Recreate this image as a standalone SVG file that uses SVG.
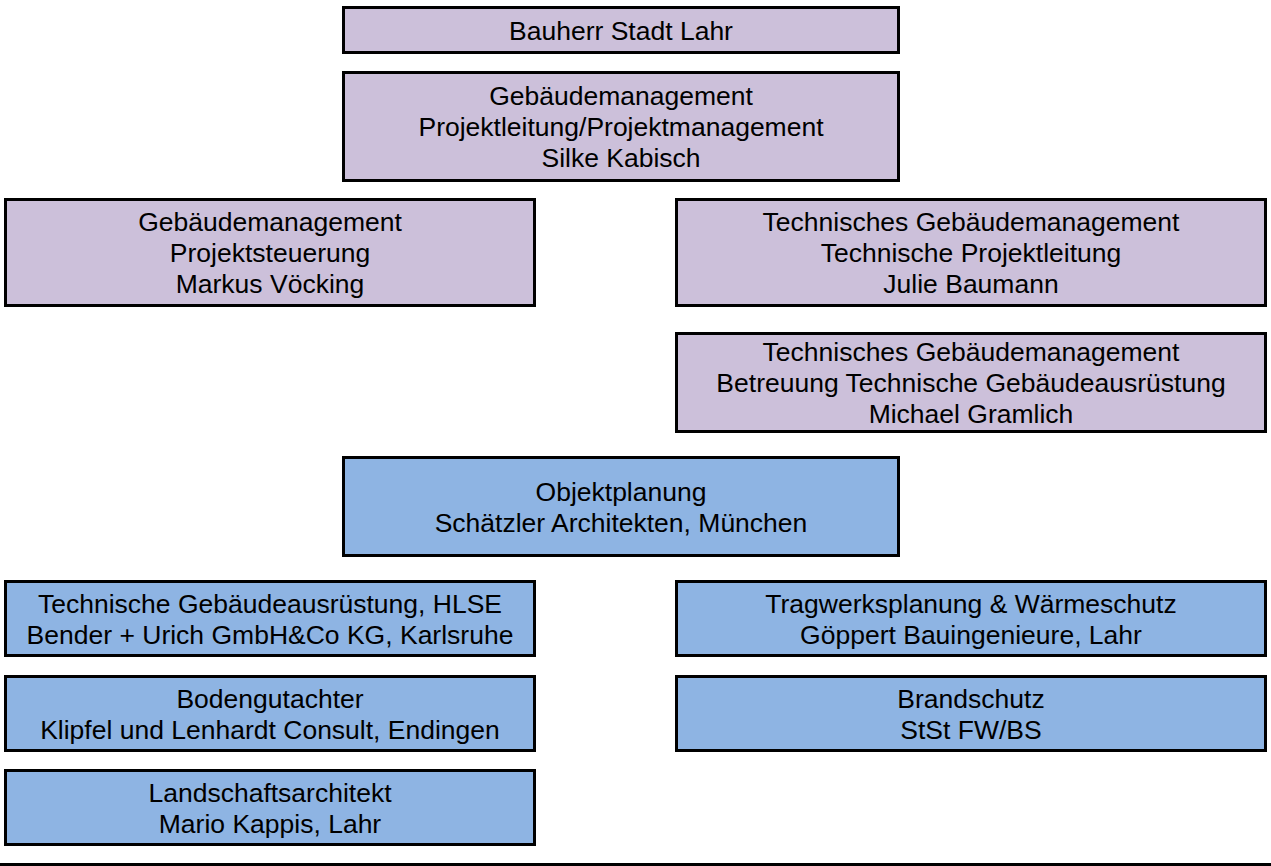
<svg xmlns="http://www.w3.org/2000/svg" width="1271" height="866" viewBox="0 0 1271 866">
<style>
.p{fill:#CCC0DA;stroke:#000;stroke-width:3}
.b{fill:#8EB4E3;stroke:#000;stroke-width:3}
text{font-family:"Liberation Sans",Arial,sans-serif;font-size:26.5px;fill:#000;text-anchor:middle}
</style>
<rect width="1271" height="866" fill="#fff"/>
<g id="bauherr"><rect class="p" x="343.5" y="7.5" width="555" height="45"/><text x="621" y="39.5">Bauherr Stadt Lahr</text></g>
<g id="projektleitung"><rect class="p" x="343.5" y="72.5" width="555" height="108"/><text x="621" y="105">Gebäudemanagement<tspan x="621" y="136">Projektleitung/Projektmanagement</tspan><tspan x="621" y="167">Silke Kabisch</tspan></text></g>
<g id="projektsteuerung"><rect class="p" x="5.5" y="199.5" width="529" height="106"/><text x="270" y="231">Gebäudemanagement<tspan x="270" y="262">Projektsteuerung</tspan><tspan x="270" y="293">Markus Vöcking</tspan></text></g>
<g id="tech-projektleitung"><rect class="p" x="676.5" y="199.5" width="589" height="106"/><text x="971" y="231">Technisches Gebäudemanagement<tspan x="971" y="262">Technische Projektleitung</tspan><tspan x="971" y="293">Julie Baumann</tspan></text></g>
<g id="tech-tga"><rect class="p" x="676.5" y="333.5" width="589" height="98"/><text x="971" y="361">Technisches Gebäudemanagement<tspan x="971" y="392">Betreuung Technische Gebäudeausrüstung</tspan><tspan x="971" y="423">Michael Gramlich</tspan></text></g>
<g id="objektplanung"><rect class="b" x="343.5" y="457.5" width="555" height="98"/><text x="621" y="500.5">Objektplanung<tspan x="621" y="531.5">Schätzler Architekten, München</tspan></text></g>
<g id="tga-hlse"><rect class="b" x="5.5" y="581.5" width="529" height="74"/><text x="270" y="612.5">Technische Gebäudeausrüstung, HLSE<tspan x="270" y="643.5">Bender + Urich GmbH&amp;Co KG, Karlsruhe</tspan></text></g>
<g id="tragwerk"><rect class="b" x="676.5" y="581.5" width="589" height="74"/><text x="971" y="612.5">Tragwerksplanung &amp; Wärmeschutz<tspan x="971" y="643.5">Göppert Bauingenieure, Lahr</tspan></text></g>
<g id="boden"><rect class="b" x="5.5" y="676.5" width="529" height="74"/><text x="270" y="707.5">Bodengutachter<tspan x="270" y="738.5">Klipfel und Lenhardt Consult, Endingen</tspan></text></g>
<g id="brandschutz"><rect class="b" x="676.5" y="676.5" width="589" height="74"/><text x="971" y="707.5">Brandschutz<tspan x="971" y="738.5">StSt FW/BS</tspan></text></g>
<g id="landschaft"><rect class="b" x="5.5" y="770.5" width="529" height="74"/><text x="270" y="801.5">Landschaftsarchitekt<tspan x="270" y="832.5">Mario Kappis, Lahr</tspan></text></g>
<g id="connectors"></g>
<rect x="0" y="863" width="1271" height="3" fill="#000"/>
</svg>
